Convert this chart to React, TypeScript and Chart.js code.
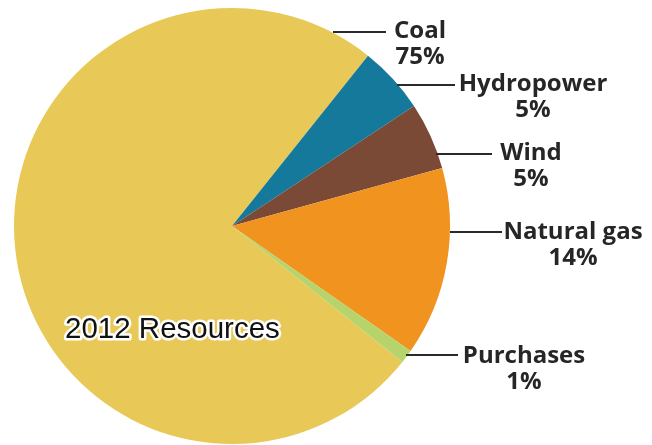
import React, { useEffect, useRef } from "react";
import { Chart, registerables } from "chart.js";

Chart.register(...registerables);

const categories = ["Coal", "Hydropower", "Wind", "Natural gas", "Purchases"];
const shares = [75, 5, 5, 14, 1];
const percentLabels = ["75%", "5%", "5%", "14%", "1%"];
const sliceColors = ["#E8C957", "#14799A", "#7A4A36", "#F0931F", "#B6D46B"];
const chartTitle = "2012 Resources";

// label placement (text centre x, first baseline y, leader line from x1 to x2 at ly)
const labelLayout = [
  { cx: 420, by: 38, x1: 333, x2: 386, ly: 32 },
  { cx: 533, by: 91, x1: 397, x2: 455, ly: 85 },
  { cx: 531, by: 160, x1: 436, x2: 492, ly: 154 },
  { cx: 573, by: 239, x1: 450, x2: 502, ly: 232 },
  { cx: 524, by: 363, x1: 406, x2: 458, ly: 355 },
];

const labelPlugin = {
  id: "leaderLabels",
  afterDraw(chart: any) {
    const ctx = chart.ctx;
    ctx.save();
    ctx.strokeStyle = "#2a2a2a";
    ctx.lineWidth = 2;
    ctx.fillStyle = "#262626";
    ctx.font = "bold 24px 'Open Sans'";
    ctx.textAlign = "center";
    ctx.textBaseline = "alphabetic";
    categories.forEach((name, i) => {
      const l = labelLayout[i];
      ctx.beginPath();
      ctx.moveTo(l.x1, l.ly);
      ctx.lineTo(l.x2, l.ly);
      ctx.stroke();
      ctx.fillText(name, l.cx, l.by);
      ctx.fillText(percentLabels[i], l.cx, l.by + 26);
    });
    // inner title
    ctx.font = "29.5px 'Liberation Sans'";
    ctx.textAlign = "left";
    ctx.lineJoin = "round";
    ctx.lineWidth = 5;
    ctx.strokeStyle = "#ffffff";
    ctx.strokeText(chartTitle, 65, 338);
    ctx.fillStyle = "#111111";
    ctx.fillText(chartTitle, 65, 338);
    ctx.restore();
  },
};

export default function App() {
  const ref = useRef<HTMLCanvasElement>(null);
  useEffect(() => {
    document.body.style.margin = "0";
    const chart = new Chart(ref.current as HTMLCanvasElement, {
      type: "pie",
      data: {
        labels: categories,
        datasets: [
          {
            data: shares,
            backgroundColor: sliceColors,
            borderWidth: 0,
          },
        ],
      },
      options: {
        responsive: false,
        animation: false,
        rotation: 128.6,
        layout: { padding: { left: 14, right: 202, top: 8, bottom: 1 } },
        plugins: {
          legend: { display: false },
          tooltip: { enabled: false },
          title: { display: false },
        },
      },
      plugins: [labelPlugin],
    });
    return () => chart.destroy();
  }, []);
  return (
    <div style={{ width: 652, height: 445, background: "#fff" }}>
      <canvas ref={ref} width={652} height={445} />
    </div>
  );
}
